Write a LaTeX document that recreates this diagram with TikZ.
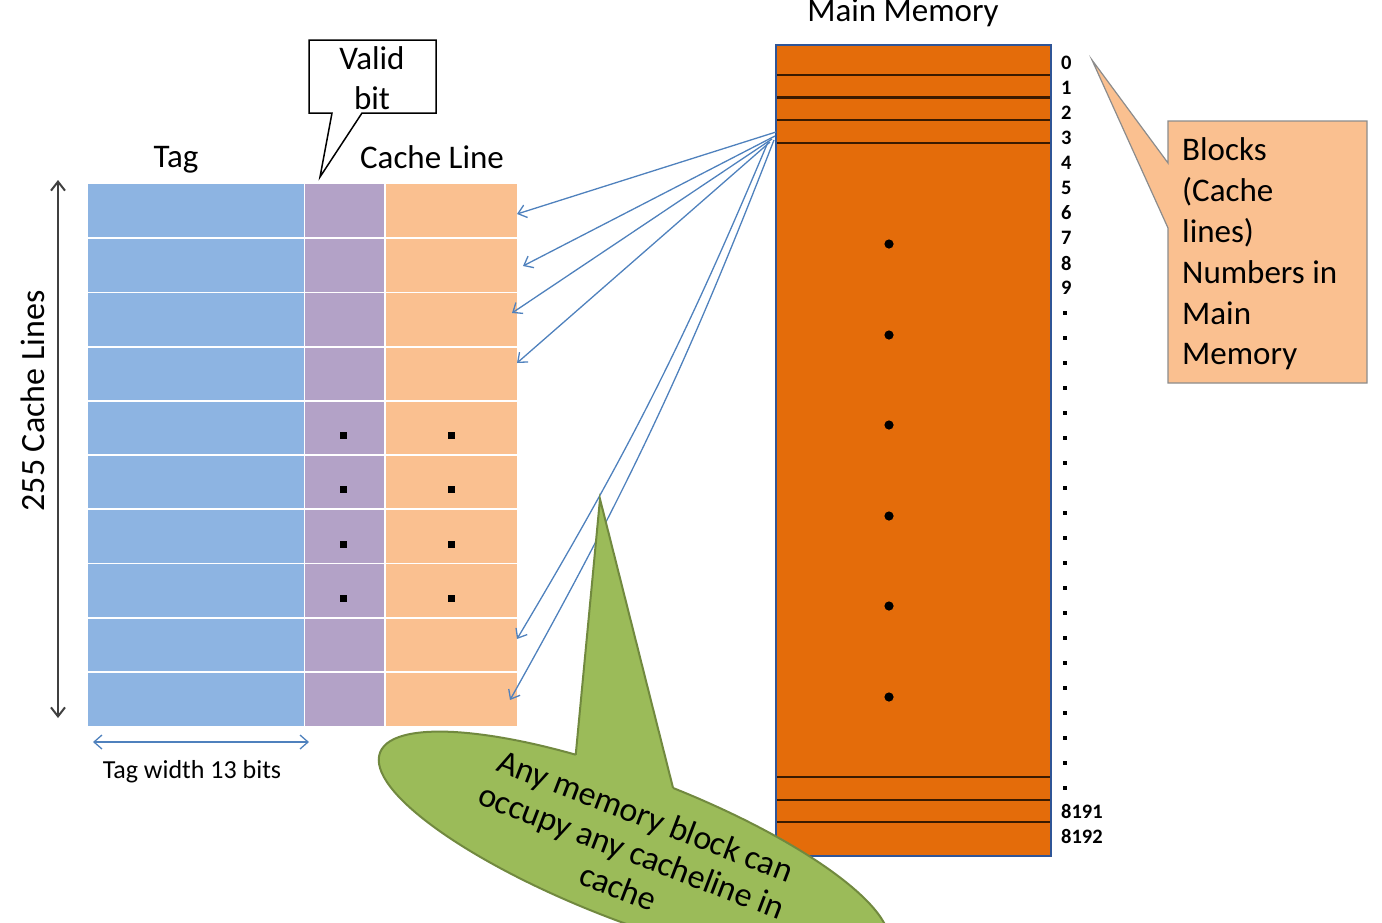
\documentclass[tikz,border=0pt]{standalone}
\usepackage{fontspec}
\setmainfont{Carlito}
\usetikzlibrary{arrows.meta,calc}
\definecolor{tagc}{HTML}{8DB4E2}
\definecolor{validc}{HTML}{B3A2C7}
\definecolor{datac}{HTML}{FAC090}
\definecolor{memc}{HTML}{E46C0A}
\definecolor{memb}{HTML}{2F5597}
\definecolor{meml}{HTML}{3A1A00}
\definecolor{greenf}{HTML}{9BBB59}
\definecolor{greend}{HTML}{71893F}
\definecolor{arrb}{HTML}{4F81BD}
\definecolor{calloutb}{HTML}{8C8C8C}
\tikzset{
  lbl/.style={inner sep=0pt, font=\fontsize{33}{40}\selectfont},
  numlbl/.style={inner sep=0pt, anchor=west, font=\bfseries\fontsize{20.5}{22}\selectfont},
  maparrow/.style={draw=arrb, line width=1.3pt, -{Straight Barb[length=8pt,width=13pt]}},
  memline/.style={draw=meml, line width=2.4pt},
  sep/.style={draw=white, line width=1.8pt}
}
\begin{document}
\begin{tikzpicture}[x=1pt,y=-1pt]
\useasboundingbox (0,0) rectangle (1382,922);

% ---- cache table ----
\foreach \i in {0,...,9} {
  \pgfmathsetmacro\yt{184+54.2*\i}
  \pgfmathsetmacro\yb{184+54.2*(\i+1)}
  \fill[tagc] (88,\yt) rectangle (304,\yb);
  \fill[validc] (304,\yt) rectangle (385,\yb);
  \fill[datac] (385,\yt) rectangle (517,\yb);
}
\foreach \i in {1,...,9} {
  \pgfmathsetmacro\yy{184+54.2*\i}
  \draw[sep] (88,\yy) -- (517,\yy);
}
\draw[sep] (304.5,184) -- (304.5,726);
\draw[sep] (385,184) -- (385,726);
\foreach \y in {435,489,544,598} {
  \fill (339.5,\y-3.5) rectangle ++(7,7);
  \fill (447.5,\y-3.5) rectangle ++(7,7);
}

% ---- labels of cache ----
\node[lbl] (tag) at (176,160) {Tag};
\node[lbl] (cline) at (432,157) {Cache Line};
\node[lbl, rotate=90, font=\fontsize{34}{40}\selectfont] (lines) at (33,401) {255 Cache Lines};
\node[inner sep=0pt, font=\fontsize{26}{30}\selectfont] (tw) at (192,772) {Tag width 13 bits};

\coordinate (vt) at (58,180);
\coordinate (vb) at (58,718);
\draw[draw=black!75, line width=2pt, {Straight Barb[length=9pt,width=14pt]}-{Straight Barb[length=9pt,width=14pt]}] (vt) -- (vb);
\coordinate (twl) at (93,742);
\coordinate (twr) at (309,742);
\draw[draw=arrb, line width=1.3pt, {Straight Barb[length=8pt,width=14pt]}-{Straight Barb[length=8pt,width=14pt]}] (twl) -- (twr);

% ---- valid bit callout ----
\draw[fill=white, line width=1.5pt, line join=miter] (309,40) -- (436,40) -- (436,113) -- (362,113) -- (320,177) -- (332,113) -- (309,113) -- cycle;
\node[lbl, align=center] (valid) at (372,78) {Valid\\bit};

% ---- main memory ----
\node[lbl] (mmlabel) at (903,13) {Main Memory};
\draw[fill=memc, draw=memb, line width=2.6pt] (776,45) rectangle (1051,856);
\coordinate (mem) at (776,45);
\foreach \y in {75,97.5,120,143,777,800,822} {
  \draw[memline] (777.3,\y) -- (1049.7,\y);
}
\foreach \y in {244,335,425,516,606,697} {
  \fill (889,\y) circle (4.6);
}
\foreach \n [count=\k from 0] in {0,1,2,3,4,5,6,7,8,9} {
  \node[numlbl] (n\n) at (1061,63+25*\k) {\n};
}
\foreach \k in {10,...,29} {
  \fill (1063.2,63+25*\k-2) rectangle ++(4,4);
}
\node[numlbl] (n8191) at (1061,811) {8191};
\node[numlbl] (n8192) at (1061,836) {8192};

% ---- blocks callout ----
\draw[fill=datac, draw=calloutb, line width=1.2pt, line join=miter] (1168,121) -- (1367,121) -- (1367,383) -- (1168,383) -- (1168,228) -- (1092,60) -- (1168,163) -- cycle;
\node[lbl, align=left, anchor=west, font=\fontsize{33}{40.8}\selectfont] (blocks) at (1182,254) {Blocks\\(Cache\\lines)\\Numbers in\\Main\\Memory};

% ---- mapping arrows ----
\coordinate (o1) at (776,132);
\coordinate (o2) at (775,136);
\coordinate (o3) at (772,139);
\coordinate (o4) at (770,142);
\coordinate (o5) at (768,142);
\coordinate (o6) at (774,140);
\coordinate (c1) at (517,214);
\coordinate (c2) at (523,266);
\coordinate (c3) at (512,313);
\coordinate (c4) at (517,363);
\coordinate (c5) at (517,639);
\coordinate (c6) at (510,700);
\draw[maparrow] (o1) -- (c1);
\draw[maparrow] (o2) -- (c2);
\draw[maparrow] (o3) -- (c3);
\draw[maparrow] (o4) -- (c4);
\draw[maparrow] (o5) to[bend left=4] (c5);
\draw[maparrow] (o6) to[bend left=4] (c6);

% ---- green callout ----
\coordinate (gc) at (634,850);
\coordinate (gtip) at (600,499);
\begin{scope}[shift={(gc)}, rotate=-21]
  \coordinate (gb1) at ({272*cos(109)},{-72*sin(109)});
  \coordinate (gb2) at ({272*cos(87)},{-72*sin(87)});
  \coordinate (gi1) at ({272*cos(109)+4},-45);
  \coordinate (gi2) at ({272*cos(87)-4},-45);
\end{scope}
\draw[fill=greenf, draw=greend, line width=2pt, rotate around={-21:(gc)}] (gc) ellipse [x radius=272, y radius=72];
\fill[greenf] (gtip) -- (gb1) -- (gi1) -- (gi2) -- (gb2) -- cycle;
\draw[draw=greend, line width=2pt, line join=miter] (gb1) -- (gtip) -- (gb2);
\node[inner sep=0pt, align=center, rotate=-21, font=\fontsize{34}{38}\selectfont] (gtext) at (632,851) {Any memory block can\\occupy any cacheline in\\cache};
\end{tikzpicture}
\end{document}
